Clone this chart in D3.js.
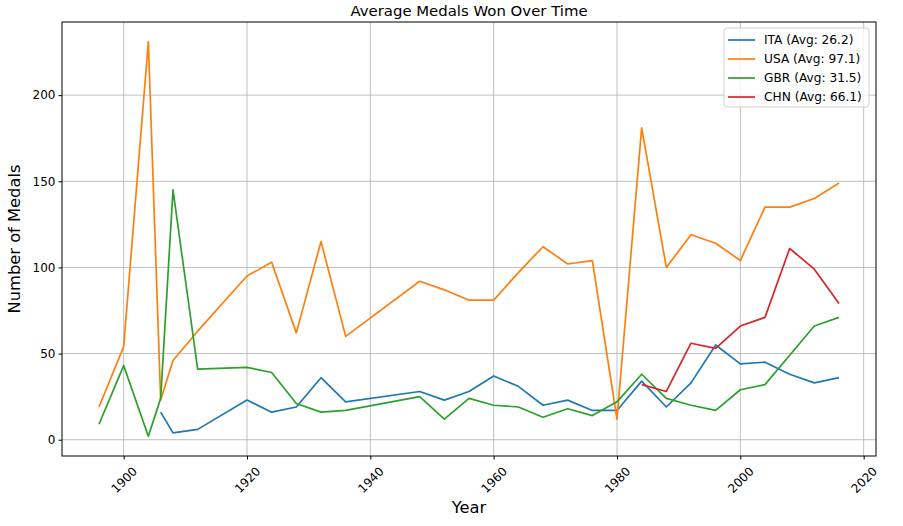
<!DOCTYPE html>
<html>
<head>
<meta charset="utf-8">
<script src="https://cdn.jsdelivr.net/npm/d3@7"></script>
<style>
  body { margin: 0; background: #fff; }
  svg { font-family: "DejaVu Sans", sans-serif; }
</style>
</head>
<body>
<svg id="chart" width="903" height="526"></svg>
<script>
// 1: DATA
const years = [1896, 1900, 1904, 1906, 1908, 1912, 1920, 1924, 1928, 1932, 1936, 1948, 1952, 1956,
    1960, 1964, 1968, 1972, 1976, 1980, 1984, 1988, 1992, 1996, 2000, 2004, 2008, 2012, 2016];

const usaMedals = [19, 54, 231, 23, 46, 63, 95, 103, 62, 115, 60, 92, 87, 81,
    81, 97, 112, 102, 104, 12, 181, 100, 119, 114, 104, 135, 135, 140, 149];
const itaMedals = [null, null, null, 16, 4, 6, 23, 16, 19, 36, 22, 28, 23, 28,
    37, 31, 20, 23, 17, 17, 34, 19, 33, 55, 44, 45, 38, 33, 36];
const gbrMedals = [9, 43, 2, 24, 145, 41, 42, 39, 21, 16, 17, 25, 12, 24,
    20, 19, 13, 18, 14, 22, 38, 24, 20, 17, 29, 32, 49, 66, 71];
const chnMedals = [null, null, null, null, null, null, null, null, null, null, null, null, null, null,
    null, null, null, null, null, null, 32, 28, 56, 53, 66, 71, 111, 99, 79];

const seriesNames = ["ITA (Avg: 26.2)", "USA (Avg: 97.1)", "GBR (Avg: 31.5)", "CHN (Avg: 66.1)"];
const seriesColors = ["#1f77b4", "#ff7f0e", "#2ca02c", "#d62728"];
const xTicks = [1900, 1920, 1940, 1960, 1980, 2000, 2020];
const yTicks = [0, 50, 100, 150, 200];

const series = [itaMedals, usaMedals, gbrMedals, chnMedals].map((vals, i) => ({
    name: seriesNames[i],
    color: seriesColors[i],
    points: years.map((y, j) => ({ year: y, value: vals[j] })).filter(d => d.value !== null)
}));

// 2: LAYOUT
const margin = { top: 22, right: 27, bottom: 70, left: 62 };
const width = 903 - margin.left - margin.right;
const height = 526 - margin.top - margin.bottom;

const svg = d3.select("#chart");
const g = svg.append("g").attr("transform", `translate(${margin.left},${margin.top})`);

// 3: SCALES (matplotlib-style 5% margins)
const allVals = [].concat(usaMedals, itaMedals, gbrMedals, chnMedals).filter(v => v !== null);
const xMin = d3.min(years), xMax = d3.max(years);
const yMin = d3.min(allVals), yMax = d3.max(allVals);
const xPad = (xMax - xMin) * 0.05, yPad = (yMax - yMin) * 0.05;

const xScale = d3.scaleLinear().domain([xMin - xPad, xMax + xPad]).range([0, width]);
const yScale = d3.scaleLinear().domain([yMin - yPad, yMax + yPad]).range([height, 0]);

// 4: GRID
g.append("g")
    .selectAll("line")
    .data(xTicks)
    .join("line")
    .attr("x1", d => xScale(d)).attr("x2", d => xScale(d))
    .attr("y1", 0).attr("y2", height)
    .attr("stroke", "#b0b0b0").attr("stroke-width", 0.8);

g.append("g")
    .selectAll("line")
    .data(yTicks)
    .join("line")
    .attr("x1", 0).attr("x2", width)
    .attr("y1", d => yScale(d)).attr("y2", d => yScale(d))
    .attr("stroke", "#b0b0b0").attr("stroke-width", 0.8);

// 5: LINES
const line = d3.line().x(d => xScale(d.year)).y(d => yScale(d.value));

series.forEach(s => {
    g.append("path")
        .datum(s.points)
        .attr("fill", "none")
        .attr("stroke", s.color)
        .attr("stroke-width", 1.7)
        .attr("stroke-linejoin", "round")
        .attr("d", line);
});

// 6: AXES
const xAxis = g.append("g")
    .attr("transform", `translate(0,${height})`)
    .call(d3.axisBottom(xScale).tickValues(xTicks).tickFormat(d3.format("d")).tickSize(3.5).tickSizeOuter(0));
xAxis.select(".domain").remove();
xAxis.selectAll("text")
    .attr("font-size", 12)
    .attr("font-family", "DejaVu Sans, sans-serif")
    .attr("fill", "#000")
    .attr("text-anchor", "middle")
    .attr("dy", "0.35em")
    .attr("y", 0)
    .attr("transform", "translate(0,24) rotate(-45)");

const yAxis = g.append("g")
    .call(d3.axisLeft(yScale).tickValues(yTicks).tickSize(3.5).tickSizeOuter(0));
yAxis.select(".domain").remove();
yAxis.selectAll("text")
    .attr("font-size", 12)
    .attr("font-family", "DejaVu Sans, sans-serif")
    .attr("fill", "#000");

g.append("rect")
    .attr("width", width).attr("height", height)
    .attr("fill", "none").attr("stroke", "#000").attr("stroke-width", 1);

// 7: LABELS
svg.append("text")
    .attr("x", margin.left + width / 2)
    .attr("y", 16)
    .attr("text-anchor", "middle")
    .attr("font-size", 14.9)
    .text("Average Medals Won Over Time");

svg.append("text")
    .attr("x", margin.left + width / 2)
    .attr("y", 513)
    .attr("text-anchor", "middle")
    .attr("font-size", 16.3)
    .text("Year");

svg.append("text")
    .attr("transform", "rotate(-90)")
    .attr("x", -(margin.top + height / 2))
    .attr("y", 20)
    .attr("text-anchor", "middle")
    .attr("font-size", 16.3)
    .text("Number of Medals");

// 8: LEGEND
const legend = g.append("g").attr("transform", `translate(${width - 152},6)`);
legend.append("rect")
    .attr("width", 145).attr("height", 79)
    .attr("rx", 3)
    .attr("fill", "#fff").attr("fill-opacity", 0.8)
    .attr("stroke", "#d0d0d0");

series.forEach((s, i) => {
    const y = 12 + i * 19;
    legend.append("line")
        .attr("x1", 4).attr("x2", 31)
        .attr("y1", y).attr("y2", y)
        .attr("stroke", s.color).attr("stroke-width", 1.7);
    legend.append("text")
        .attr("x", 40).attr("y", y)
        .attr("dominant-baseline", "central")
        .attr("font-size", 12.2)
        .text(s.name);
});
</script>
</body>
</html>
